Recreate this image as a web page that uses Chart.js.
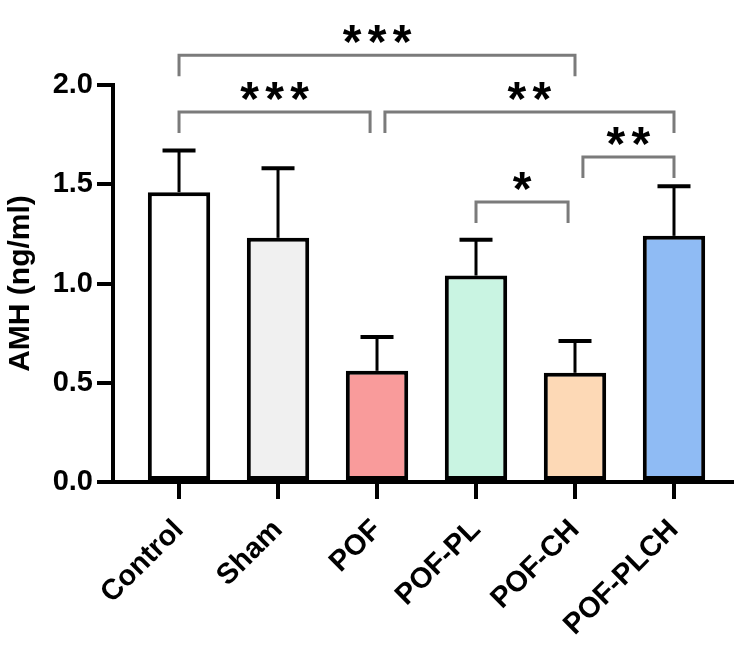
<!DOCTYPE html>
<html>
<head>
<meta charset="utf-8">
<title>AMH</title>
<script src="https://cdn.jsdelivr.net/npm/chart.js@4"></script>
<style>
  html, body { margin: 0; padding: 0; background: #fff; }
  #wrap { width: 736px; height: 656px; }
</style>
</head>
<body>
<div id="wrap"><canvas id="amhChart" width="736" height="656"></canvas></div>
<script>
// ---- data ----
const groups = ['Control', 'Sham', 'POF', 'POF-PL', 'POF-CH', 'POF-PLCH'];
const amhMean = [1.46, 1.23, 0.56, 1.04, 0.55, 1.24];
const amhUpper = [1.67, 1.58, 0.73, 1.22, 0.71, 1.49];   // mean + SD
const yTicks = [0, 0.5, 1.0, 1.5, 2.0];

// significance comparisons (group index pairs) and stars
const sigFrom = [0, 0, 2, 4, 3];
const sigTo = [4, 2, 5, 5, 4];
const sigStars = ['***', '***', '**', '**', '*'];

// ---- styling / layout ----
const barColors = ['#ffffff', '#f0f0f0', '#f99b9b', '#c9f4e2', '#fdd9b6', '#8fbbf4'];
const bracketLevel = [2.15, 1.864, 1.864, 1.637, 1.41];  // y (data units) of each bracket
const bracketNudge = [[0, 0], [0, -0.07], [0.08, 0], [0.08, 0], [0, -0.07]];
const FONT = "'Liberation Sans', Arial, Helvetica, sans-serif";

Chart.defaults.font.family = FONT;
Chart.defaults.font.weight = 'bold';
Chart.defaults.color = '#000';

// error bars (upper only)
const errorBars = {
  id: 'errorBars',
  afterDatasetsDraw(chart) {
    const { ctx, scales: { x, y } } = chart;
    ctx.save();
    ctx.strokeStyle = '#000';
    amhMean.forEach((m, i) => {
      const px = x.getPixelForValue(i);
      const top = y.getPixelForValue(amhUpper[i]);
      ctx.lineWidth = 3;
      ctx.beginPath();
      ctx.moveTo(px, y.getPixelForValue(m));
      ctx.lineTo(px, top);
      ctx.stroke();
      ctx.lineWidth = 4;
      ctx.beginPath();
      ctx.moveTo(px - 16.5, top);
      ctx.lineTo(px + 16.5, top);
      ctx.stroke();
    });
    ctx.restore();
  }
};

// significance brackets
const brackets = {
  id: 'brackets',
  afterDraw(chart) {
    const { ctx, scales: { x, y } } = chart;
    ctx.save();
    sigFrom.forEach((from, k) => {
      const x1 = x.getPixelForValue(from + bracketNudge[k][0]);
      const x2 = x.getPixelForValue(sigTo[k] + bracketNudge[k][1]);
      const yl = y.getPixelForValue(bracketLevel[k]);
      const drop = 21;
      ctx.strokeStyle = '#7b7b7b';
      ctx.lineWidth = 3;
      ctx.beginPath();
      ctx.moveTo(x1, yl + drop);
      ctx.lineTo(x1, yl);
      ctx.lineTo(x2, yl);
      ctx.lineTo(x2, yl + drop);
      ctx.stroke();

      // stars, drawn one by one so the spacing matches
      const n = sigStars[k].length;
      const gap = 25;
      const cx = (x1 + x2) / 2;
      const cy = yl - 25;
      const size = 48;
      ctx.fillStyle = '#000';
      ctx.font = 'bold ' + size + 'px ' + FONT;
      ctx.textAlign = 'center';
      ctx.textBaseline = 'alphabetic';
      for (let s = 0; s < n; s++) {
        const sx = cx + (s - (n - 1) / 2) * gap;
        ctx.fillText('*', sx, cy + size * 0.58);
      }
    });
    ctx.restore();
  }
};

const ctx = document.getElementById('amhChart');
new Chart(ctx, {
  type: 'bar',
  data: {
    datasets: [{
      label: 'AMH',
      data: groups.map((g, i) => ({ x: i, y: amhMean[i] })),
      backgroundColor: barColors,
      borderColor: '#000',
      borderWidth: 4,
      borderSkipped: false,
      categoryPercentage: 1,
      barPercentage: 0.63,
    }]
  },
  options: {
    responsive: false,
    animation: false,
    devicePixelRatio: 1,
    layout: { padding: { top: 85, right: 4, left: 0, bottom: 0 } },
    plugins: {
      legend: { display: false },
      tooltip: { enabled: false }
    },
    scales: {
      x: {
        type: 'linear',
        min: -0.667,
        max: 5.586,
        offset: false,
        grid: { offset: false, drawOnChartArea: false, drawTicks: true, tickLength: 17, lineWidth: 4, color: '#000' },
        border: { display: true, width: 4, color: '#000' },
        afterBuildTicks: (scale) => { scale.ticks = groups.map((g, i) => ({ value: i })); },
        afterFit: (scale) => { scale.height = 174; },
        ticks: {
          autoSkip: false,
          minRotation: 45,
          maxRotation: 45,
          padding: 14,
          font: { size: 29, weight: 'bold' },
          color: '#000',
          callback: (v) => groups[v] ?? ''
        }
      },
      y: {
        min: 0,
        max: 2,
        afterBuildTicks: (scale) => { scale.ticks = yTicks.map(v => ({ value: v })); },
        afterFit: (scale) => { scale.width = 113; },
        grid: { drawOnChartArea: false, drawTicks: true, tickLength: 16, lineWidth: 4, color: '#000' },
        border: { display: true, width: 4, color: '#000' },
        ticks: {
          padding: 4,
          font: { size: 29, weight: 'bold' },
          color: '#000',
          callback: (v) => Number(v).toFixed(1)
        },
        title: {
          display: true,
          text: 'AMH (ng/ml)',
          font: { size: 30, weight: 'bold' },
          color: '#000',
          padding: { top: 3, bottom: 0 }
        }
      }
    }
  },
  plugins: [errorBars, brackets]
});
</script>
</body>
</html>
